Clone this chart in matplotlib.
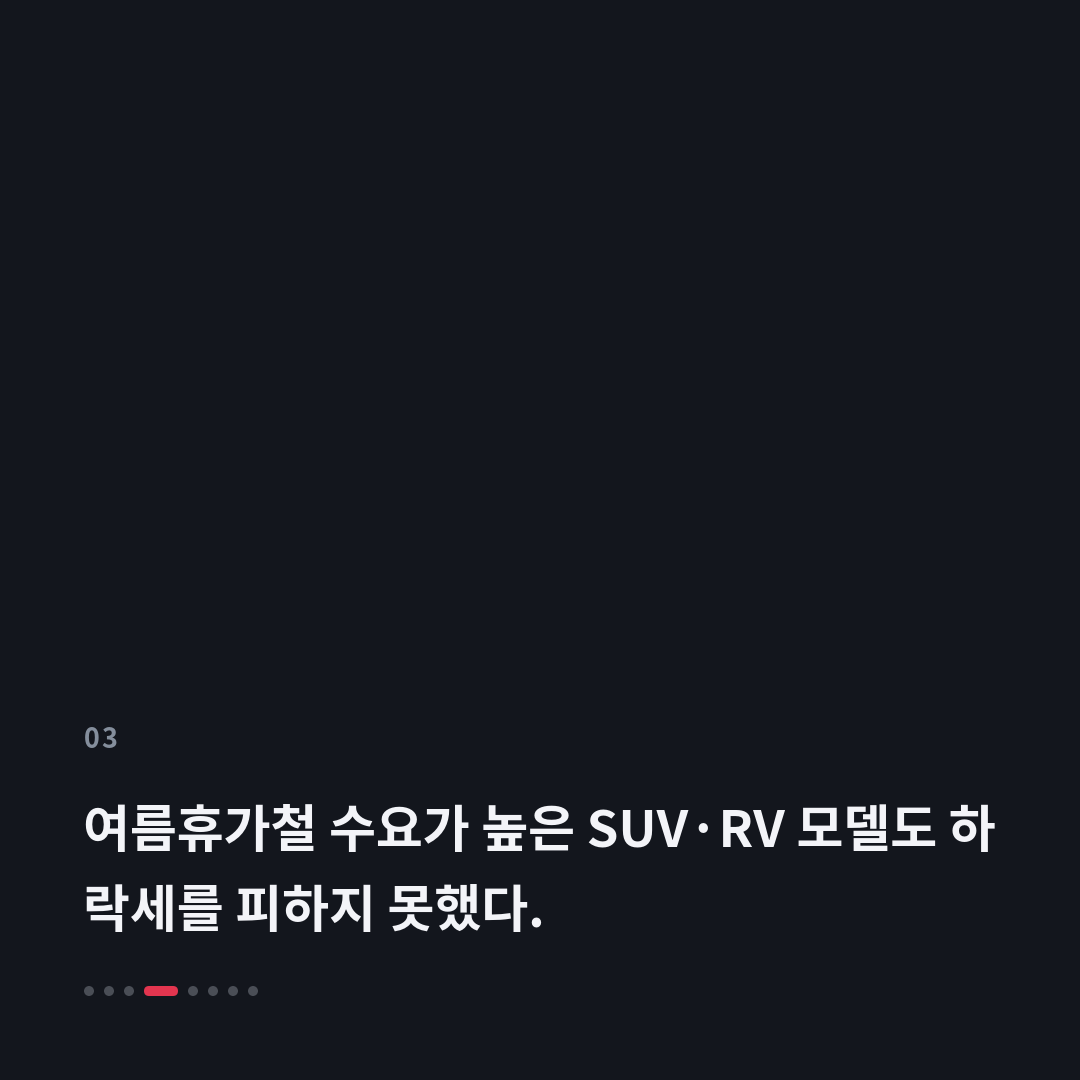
import matplotlib
matplotlib.use("Agg")
import matplotlib.pyplot as plt
from matplotlib.patches import FancyBboxPatch, Circle

slide_number = "03"
title_lines = ["여름휴가철 수요가 높은 SUV·RV 모델도 하", "락세를 피하지 못했다."]
n_dots = 8
active_dot = 3

BG = "#13161d"
W = H = 1080
fig = plt.figure(figsize=(10.8, 10.8), dpi=100, facecolor=BG)
ax = fig.add_axes([0, 0, 1, 1])
ax.set_xlim(0, W)
ax.set_ylim(H, 0)
ax.axis("off")
ax.set_facecolor(BG)

fam = ["Noto Sans CJK KR", "DejaVu Sans"]

def px(p):
    return p * 72 / 100

# slide number with slight letter spacing
xc = 84
for ch in slide_number:
    ax.text(xc, 740, ch, fontsize=px(27), color="#848e9c", fontweight="bold",
            family=fam, va="center", ha="left")
    xc += 17

for i, line in enumerate(title_lines):
    ax.text(83, 832 + i * 81, line, fontsize=px(51), color="#f3f4f8", fontweight="bold",
            family=fam, va="center", ha="left")

x = 89
for i in range(n_dots):
    if i == active_dot:
        w = 34
        ax.add_patch(FancyBboxPatch((x - 5, 986), w, 10,
                                    boxstyle="round,pad=0,rounding_size=5",
                                    fc="#e3354f", ec="none"))
        x += w + 10
    else:
        ax.add_patch(Circle((x, 991), 5, fc="#4a4e56", ec="none"))
        x += 20

fig.savefig("out.png", dpi=100, facecolor=BG)
